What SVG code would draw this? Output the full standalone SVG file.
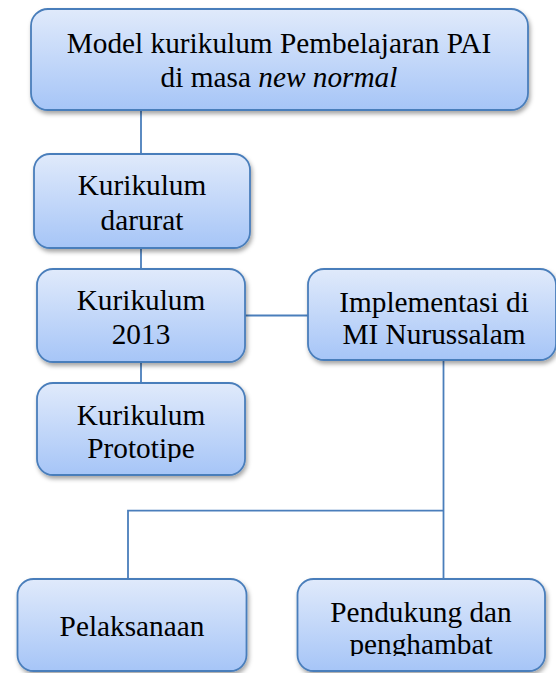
<svg xmlns="http://www.w3.org/2000/svg" width="556" height="673" viewBox="0 0 556 673">
<style>
.box{fill:url(#g);stroke:#4a7ebb;stroke-width:1.8;filter:url(#sh)}
.t{font-family:'Liberation Serif','Times New Roman',serif;font-size:29.3px;fill:#000;text-anchor:middle}
.c{stroke:#4a7ebb;stroke-width:1.8;fill:none}
</style>
<defs>
<linearGradient id="g" x1="0" y1="0" x2="0" y2="1">
<stop offset="0" stop-color="#e0eafb"/>
<stop offset="1" stop-color="#a6c5f7"/>
</linearGradient>
<filter id="sh" x="-10%" y="-10%" width="125%" height="130%">
<feDropShadow dx="1.5" dy="3" stdDeviation="2" flood-color="#000" flood-opacity="0.35"/>
</filter>
<clipPath id="cp1"><rect x="37" y="383" width="208" height="79"/></clipPath>
<clipPath id="cp2"><rect x="297" y="579" width="248" height="77"/></clipPath>
</defs>
<g id="connectors">
<line class="c" x1="141" y1="110" x2="141" y2="154"/>
<line class="c" x1="141" y1="248" x2="141" y2="269"/>
<line class="c" x1="141" y1="362" x2="141" y2="383"/>
<line class="c" x1="245" y1="315.5" x2="308" y2="315.5"/>
<polyline class="c" points="443.5,360 443.5,579"/>
<polyline class="c" points="128,579 128,510.7 443.5,510.7"/>
</g>
<g id="n-top">
<rect class="box" x="31" y="9" width="497" height="101" rx="17"/>
<text class="t" x="279" y="53">Model kurikulum Pembelajaran PAI</text>
<text class="t" x="279" y="87">di masa <tspan font-style="italic">new normal</tspan></text>
</g>
<g id="n-darurat">
<rect class="box" x="34" y="154" width="216" height="94" rx="16"/>
<text class="t" x="142" y="195">Kurikulum</text>
<text class="t" x="142" y="230">darurat</text>
</g>
<g id="n-2013">
<rect class="box" x="37" y="269" width="208" height="93" rx="16"/>
<text class="t" x="141" y="310">Kurikulum</text>
<text class="t" x="141" y="344">2013</text>
</g>
<g id="n-prototipe">
<rect class="box" x="37" y="383" width="208" height="92" rx="16"/>
<text class="t" x="141" y="425">Kurikulum</text>
<text class="t" x="141" y="458" clip-path="url(#cp1)">Prototipe</text>
</g>
<g id="n-implementasi">
<rect class="box" x="308" y="269" width="248" height="91" rx="16"/>
<text class="t" x="434" y="312">Implementasi di</text>
<text class="t" x="434" y="344">MI Nurussalam</text>
</g>
<g id="n-pelaksanaan">
<rect class="box" x="17.5" y="579" width="229" height="92" rx="16"/>
<text class="t" x="132" y="636">Pelaksanaan</text>
</g>
<g id="n-pendukung">
<rect class="box" x="297.5" y="579" width="247.5" height="92" rx="16"/>
<text class="t" x="421" y="622">Pendukung dan</text>
<text class="t" x="421" y="654" clip-path="url(#cp2)">penghambat</text>
</g>
</svg>
